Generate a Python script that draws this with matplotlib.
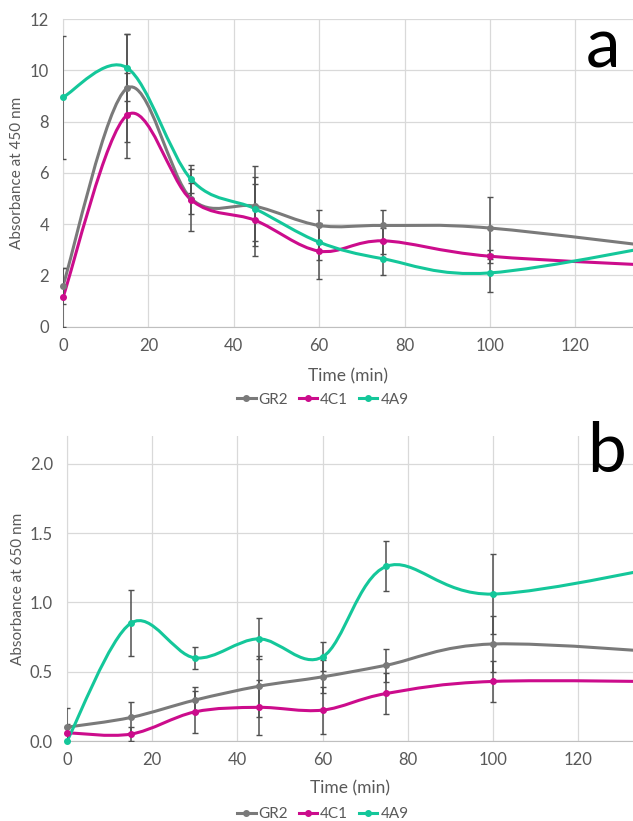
import numpy as np
import matplotlib
matplotlib.use('Agg')
import matplotlib.pyplot as plt
from matplotlib.path import Path
from matplotlib.patches import PathPatch
from matplotlib.lines import Line2D

plt.rcParams['font.family'] = ['Lato', 'DejaVu Sans']

# sampling times (min); last point lies beyond the visible axis
time = [0, 15, 30, 45, 60, 75, 100, 150]
series = ['GR2', '4C1', '4A9']
colours = {'GR2': '#7a7a7a', '4C1': '#cc0c8c', '4A9': '#14c79a'}

# panel a: absorbance at 450 nm
gr2_450 = [1.6, 9.3, 5.0, 4.7, 3.95, 3.95, 3.85, 2.9]
c1_450 = [1.15, 8.25, 4.95, 4.15, 2.95, 3.35, 2.75, 2.3]
a9_450 = [8.95, 10.1, 5.75, 4.6, 3.3, 2.65, 2.1, 3.5]
gr2_450_err = [0.7, 2.1, 0.6, 1.55, 0.6, 0.6, 1.2, 0.5]
c1_450_err = [1.15, 1.65, 1.2, 1.4, 1.1, 0.5, 0.25, 0.3]
a9_450_err = [2.4, 1.3, 0.55, 1.25, 0.7, 0.65, 0.75, 0.5]

# panel b: absorbance at 650 nm
gr2_650 = [0.10, 0.17, 0.295, 0.395, 0.463, 0.547, 0.70, 0.62]
c1_650 = [0.06, 0.05, 0.21, 0.243, 0.223, 0.343, 0.43, 0.425]
a9_650 = [0.0, 0.85, 0.60, 0.737, 0.607, 1.26, 1.06, 1.32]
gr2_650_err = [0.14, 0.11, 0.095, 0.22, 0.12, 0.12, 0.2, 0.1]
c1_650_err = [0.06, 0.05, 0.15, 0.2, 0.17, 0.15, 0.15, 0.1]
a9_650_err = [0.0, 0.24, 0.08, 0.147, 0.104, 0.18, 0.29, 0.1]


def smooth_path(x, y):
    """Excel-like smoothed line: Catmull-Rom segments as cubic Beziers."""
    pts = np.column_stack([x, y]).astype(float)
    n = len(pts)
    verts, codes = [pts[0]], [Path.MOVETO]
    for i in range(n - 1):
        p0 = pts[i - 1] if i > 0 else pts[i]
        p1, p2 = pts[i], pts[i + 1]
        p3 = pts[i + 2] if i + 2 < n else pts[i + 1]
        verts += [p1 + (p2 - p0) / 6, p2 - (p3 - p1) / 6, p2]
        codes += [Path.CURVE4] * 3
    return Path(verts, codes)


def panel(ax, data, errs, ylim, yticks, yfmt, ylab, letter, xmax,
          lab_y, let_pos):
    grid = '#d9d9d9'
    ax.set_xlim(0, xmax)
    ax.set_ylim(*ylim)
    ax.set_xticks([0, 20, 40, 60, 80, 100, 120])
    ax.set_yticks(yticks)
    ax.set_yticklabels([yfmt.format(v) for v in yticks])
    ax.grid(True, color=grid, lw=0.9)
    ax.set_axisbelow(True)
    for s in ['top', 'right']:
        ax.spines[s].set_visible(False)
    ax.spines['left'].set_color(grid)
    ax.spines['bottom'].set_color('#bfbfbf')
    ax.tick_params(length=0, labelsize=12, labelcolor='#595959')
    ax.tick_params(axis='y', pad=10)
    ax.tick_params(axis='x', pad=8)
    for name, vals, err in zip(series, data, errs):
        ax.add_patch(PathPatch(smooth_path(time, vals), fill=False,
                               edgecolor=colours[name], lw=2.2, zorder=3))
        ax.errorbar(time, vals, yerr=err, fmt='none', ecolor='#505050',
                    elinewidth=1.1, capsize=2, capthick=1, zorder=4)
        ax.plot(time, vals, 'o', color=colours[name], ms=4, zorder=5,
                clip_on=False)
    ax.set_xlabel('Time (min)', fontsize=12.5, color='#595959')
    ax.xaxis.set_label_coords(0.5, lab_y)
    ax.set_ylabel(ylab, fontsize=11, color='#595959')
    ax.text(let_pos[0], let_pos[1], letter, transform=ax.transAxes,
            fontsize=50, ha='center', va='baseline', color='black')


fig = plt.figure(figsize=(6.33, 8.21), dpi=100)
ax_a = fig.add_axes([0.0995, 0.602, 0.9005, 0.3748])
ax_b = fig.add_axes([0.1058, 0.0974, 0.8942, 0.3715])

panel(ax_a, [gr2_450, c1_450, a9_450],
      [gr2_450_err, c1_450_err, a9_450_err],
      (0, 12), [0, 2, 4, 6, 8, 10, 12], '{:g}',
      'Absorbance at 450 nm', 'a', 133.5, -0.135, (0.947, 0.842))
panel(ax_b, [gr2_650, c1_650, a9_650],
      [gr2_650_err, c1_650_err, a9_650_err],
      (0, 2.2), [0, 0.5, 1.0, 1.5, 2.0], '{:.1f}',
      'Absorbance at 650 nm', 'b', 132.9, -0.13, (0.953, 0.882))
ax_a.yaxis.set_label_coords(-0.068, 0.5)
ax_b.yaxis.set_label_coords(-0.075, 0.5)

handles = [Line2D([], [], color=colours[s], lw=2.2, marker='o', ms=4)
           for s in series]
for ax, ypos in [(ax_a, 0.513), (ax_b, 0.008)]:
    leg = ax.legend(handles, series, loc='center', ncol=3, frameon=False,
                    bbox_to_anchor=(0.51, ypos), bbox_transform=fig.transFigure,
                    handlelength=1.2, handletextpad=0.2, columnspacing=0.7,
                    fontsize=11)
    for t in leg.get_texts():
        t.set_color('#595959')

fig.savefig('out.png', dpi=100)
